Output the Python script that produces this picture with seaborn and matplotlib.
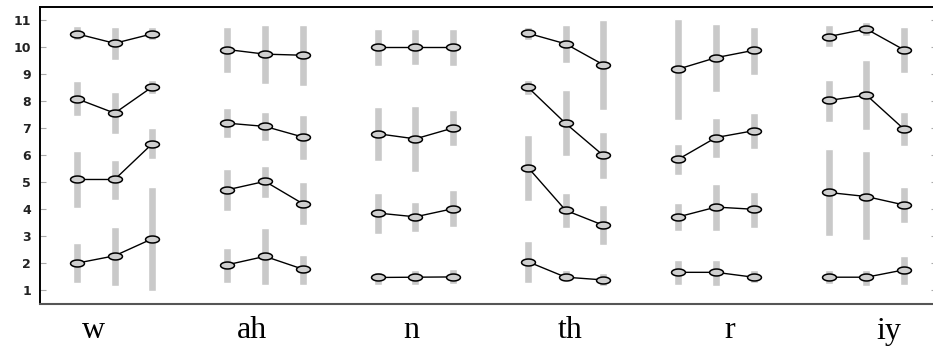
import matplotlib
matplotlib.use("Agg")
import matplotlib.pyplot as plt
from matplotlib.path import Path
import numpy as np
import pandas as pd
import seaborn as sns

# --- Data ---
phones = ["w", "ah", "n", "th", "r", "iy"]
levels = [1, 2, 3, 4]

# mean per level, 3 points per phone (w, ah, n, th, r, iy)
mean_1 = [2.01, 2.28, 2.91, 1.95, 2.26, 1.79, 1.48, 1.49, 1.50,
          2.06, 1.49, 1.39, 1.67, 1.67, 1.49, 1.49, 1.49, 1.76]
mean_2 = [5.10, 5.10, 6.42, 4.72, 5.03, 4.21, 3.86, 3.72, 4.02,
          5.54, 3.96, 3.41, 3.72, 4.08, 4.00, 4.62, 4.47, 4.16]
mean_3 = [8.08, 7.55, 8.52, 7.18, 7.06, 6.67, 6.79, 6.60, 7.00,
          8.50, 7.17, 5.99, 5.85, 6.65, 6.90, 8.02, 8.22, 6.96]
mean_4 = [10.48, 10.13, 10.48, 9.90, 9.73, 9.69, 9.99, 9.99, 9.99,
          10.50, 10.11, 9.34, 9.18, 9.60, 9.87, 10.38, 10.66, 9.89]

low_1 = [1.27, 1.18, 0.99, 1.27, 1.21, 1.21, 1.21, 1.21, 1.25,
         1.27, 1.36, 1.15, 1.21, 1.18, 1.27, 1.23, 1.17, 1.21]
low_2 = [4.04, 4.35, 5.86, 3.92, 4.41, 3.43, 3.08, 3.16, 3.33,
         4.31, 3.30, 2.69, 3.19, 3.20, 3.32, 3.02, 2.85, 3.51]
low_3 = [7.45, 6.78, 8.25, 6.63, 6.52, 5.83, 5.77, 5.36, 6.34,
         8.23, 5.95, 5.11, 5.25, 5.91, 6.22, 7.24, 6.94, 6.32]
low_4 = [10.26, 9.52, 10.26, 9.05, 8.64, 8.56, 9.31, 9.34, 9.28,
         10.26, 9.40, 7.67, 7.28, 8.34, 8.97, 9.98, 10.41, 9.03]

high_1 = [2.75, 3.36, 4.84, 2.56, 3.30, 2.32, 1.70, 1.74, 1.79,
          2.83, 1.76, 1.66, 2.13, 2.13, 1.76, 1.76, 1.74, 2.26]
high_2 = [6.16, 5.83, 7.00, 5.48, 5.61, 4.99, 4.60, 4.28, 4.70,
          6.75, 4.60, 4.14, 4.23, 4.94, 4.63, 6.23, 6.14, 4.82]
high_3 = [8.72, 8.32, 8.78, 7.74, 7.59, 7.49, 7.77, 7.82, 7.65,
          8.78, 8.40, 6.85, 6.41, 7.37, 7.55, 8.78, 9.52, 7.61]
high_4 = [10.78, 10.75, 10.75, 10.73, 10.80, 10.80, 10.66, 10.66, 10.66,
          10.75, 10.80, 10.98, 11.04, 10.85, 10.75, 10.79, 10.90, 10.75]

means = [mean_1, mean_2, mean_3, mean_4]
lows = [low_1, low_2, low_3, low_4]
highs = [high_1, high_2, high_3, high_4]

rows = []
for lev, m, lo, hi in zip(levels, means, lows, highs):
    for g, ph in enumerate(phones):
        for j in range(3):
            k = 3 * g + j
            rows.append({"x": 4 * g + j, "mean": m[k], "low": lo[k], "high": hi[k],
                         "line": f"{lev}-{ph}"})
df = pd.DataFrame(rows)

# --- Plot ---
sns.set_theme(style="white")
fig = plt.figure(figsize=(9.33, 3.56), dpi=100)
ax = fig.add_axes([39.5 / 933, 52 / 356, 897.5 / 933, 297.5 / 356])

ax.bar(df["x"], df["high"] - df["low"], bottom=df["low"], width=0.21,
       color="#c9c9c9", zorder=1)

t = np.linspace(0, 2 * np.pi, 60)
ellipse = Path(np.column_stack([np.cos(t), 0.5 * np.sin(t)]), closed=True)

sns.lineplot(data=df, x="x", y="mean", units="line", estimator=None, sort=False,
             color="black", linewidth=1.0, marker=ellipse, markersize=10,
             markerfacecolor="#cfcfcf", markeredgecolor="black",
             markeredgewidth=1.1, ax=ax, zorder=3)

ax.set_xlim(-1, 22.88)
ax.set_ylim(0.5, 11.49)
ax.set_xlabel("")
ax.set_ylabel("")

ax.set_yticks(range(1, 12))
ax.set_yticklabels([str(v) for v in range(1, 12)], fontsize=9,
                   fontweight="bold", color="#222222", family="DejaVu Sans")
ax.tick_params(axis="y", which="both", direction="in", length=4.3, width=0.8,
               color="#aaaaaa", left=True, right=True, pad=6)

ax.set_xticks(np.linspace(0.43, 21.6, 6))
ax.set_xticklabels(phones, fontsize=23, family="Liberation Serif", color="black")
ax.tick_params(axis="x", length=0, pad=9)

for side in ["top", "left"]:
    ax.spines[side].set_color("black")
    ax.spines[side].set_linewidth(1.4)
ax.spines["bottom"].set_color("#555555")
ax.spines["bottom"].set_linewidth(1.5)
ax.spines["right"].set_visible(False)

fig.savefig("out.png", dpi=100)
